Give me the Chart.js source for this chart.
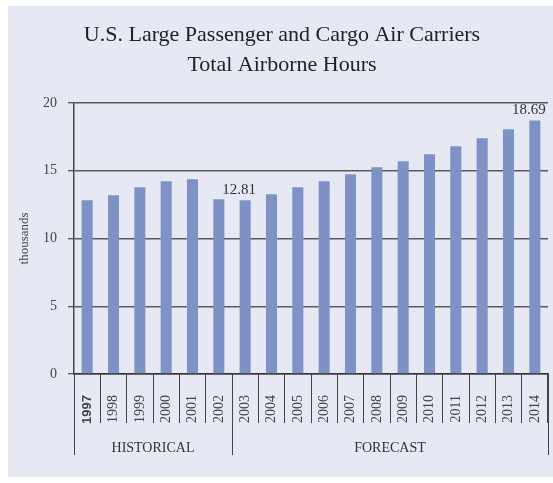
<!DOCTYPE html>
<html>
<head>
<meta charset="utf-8">
<script src="https://cdn.jsdelivr.net/npm/chart.js@4/dist/chart.umd.min.js"></script>
<style>
  html, body { margin: 0; padding: 0; background: #fff; }
  #wrap { width: 553px; height: 483px; }
</style>
</head>
<body>
<div id="wrap"><canvas id="hoursChart" width="553" height="483"></canvas></div>
<script>
// Total airborne hours (thousands)
const years = ['1997', '1998', '1999', '2000', '2001', '2002', '2003', '2004', '2005',
               '2006', '2007', '2008', '2009', '2010', '2011', '2012', '2013', '2014'];
const hours = [12.81, 13.18, 13.77, 14.21, 14.36, 12.88, 12.81, 13.25, 13.77,
               14.21, 14.73, 15.25, 15.69, 16.21, 16.80, 17.39, 18.06, 18.69];
const labeledYears = ['2003', '2014'];
const groupNames = ['HISTORICAL', 'FORECAST'];
const groupSizes = [6, 12];
const yTicks = [0, 5, 10, 15, 20];

const SERIF = "'Liberation Serif', 'Times New Roman', serif";

// light panel behind the whole chart
const panelPlugin = {
    id: 'panel',
    beforeDraw(chart) {
        const ctx = chart.ctx;
        ctx.save();
        ctx.fillStyle = '#E6E9F3';
        ctx.fillRect(8, 6, chart.width - 8, chart.height - 12);
        ctx.restore();
    }
};

// value labels on selected bars
const valueLabelPlugin = {
    id: 'valueLabels',
    afterDatasetsDraw(chart) {
        const ctx = chart.ctx;
        const meta = chart.getDatasetMeta(0);
        ctx.save();
        ctx.font = '15px ' + SERIF;
        ctx.fillStyle = '#333';
        ctx.textAlign = 'center';
        ctx.textBaseline = 'bottom';
        labeledYears.forEach(function(yr) {
            const i = years.indexOf(yr);
            const bar = meta.data[i];
            ctx.fillText(hours[i].toFixed(2), bar.x - 6, bar.y - 3);
        });
        ctx.restore();
    }
};

// HISTORICAL / FORECAST brackets under the year labels
const groupPlugin = {
    id: 'groups',
    afterDraw(chart) {
        const ctx = chart.ctx;
        const x = chart.scales.x;
        const top = chart.chartArea.bottom;
        ctx.save();
        ctx.strokeStyle = '#444';
        ctx.lineWidth = 1;
        ctx.font = '14px ' + SERIF;
        ctx.fillStyle = '#333';
        ctx.textAlign = 'center';
        ctx.textBaseline = 'middle';
        let start = 0;
        const edges = [x.getPixelForValue(-0.5)];
        groupSizes.forEach(function(n, g) {
            const left = x.getPixelForValue(start - 0.5);
            const right = x.getPixelForValue(start + n - 0.5);
            edges.push(right);
            ctx.fillText(groupNames[g], (left + right) / 2, top + 74);
            start += n;
        });
        edges.forEach(function(px) {
            const xx = Math.round(px) + 0.5;
            ctx.beginPath();
            ctx.moveTo(xx, top);
            ctx.lineTo(xx, top + 81);
            ctx.stroke();
        });
        ctx.restore();
    }
};

new Chart(document.getElementById('hoursChart'), {
    type: 'bar',
    data: {
        labels: years,
        datasets: [{
            label: 'Total Airborne Hours',
            data: hours,
            backgroundColor: '#7F92C6',
            borderWidth: 0,
            barPercentage: 0.42,
            categoryPercentage: 1.0
        }]
    },
    options: {
        responsive: false,
        animation: false,
        layout: {
            padding: { left: 16, right: 5, top: 0, bottom: 59 }
        },
        plugins: {
            legend: { display: false },
            tooltip: { enabled: false },
            title: {
                display: true,
                text: ['U.S. Large Passenger and Cargo Air Carriers', 'Total Airborne Hours'],
                color: '#222',
                font: { family: SERIF, size: 22, weight: 'normal', lineHeight: 1.36 },
                padding: { top: 20, bottom: 23 }
            }
        },
        scales: {
            x: {
                grid: {
                    offset: true,
                    drawOnChartArea: false,
                    drawTicks: true,
                    tickLength: 49,
                    color: '#444',
                    lineWidth: 1
                },
                border: { display: true, color: '#333', width: 1.5 },
                ticks: {
                    autoSkip: false,
                    minRotation: 90,
                    maxRotation: 90,
                    padding: -28,
                    color: '#444',
                    font: function(ctx) {
                        return ctx.index === 0
                            ? { family: "'Liberation Sans', Arial, sans-serif", size: 13, weight: 'bold' }
                            : { family: SERIF, size: 14, weight: 'normal' };
                    }
                },
                afterFit: function(scale) { scale.height = 50; }
            },
            y: {
                min: 0,
                max: 20,
                afterBuildTicks: function(scale) {
                    scale.ticks = yTicks.map(function(v) { return { value: v }; });
                },
                grid: {
                    color: '#5a5a5a',
                    lineWidth: 1.4,
                    tickLength: 6
                },
                border: { display: true, color: '#444', width: 1.5 },
                ticks: {
                    padding: 11,
                    color: '#444',
                    font: { family: SERIF, size: 14 }
                },
                title: {
                    display: true,
                    text: 'thousands',
                    color: '#444',
                    font: { family: SERIF, size: 13 },
                    padding: { top: 1, bottom: 0 }
                },
                afterFit: function(scale) { scale.width = 58; }
            }
        }
    },
    plugins: [panelPlugin, valueLabelPlugin, groupPlugin]
});
</script>
</body>
</html>
